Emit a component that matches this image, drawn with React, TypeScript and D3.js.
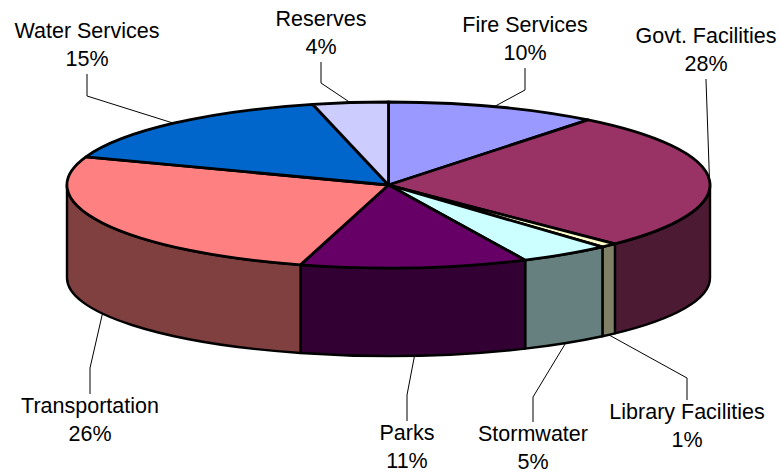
import React from 'react'
import * as d3 from 'd3'

const categories = ['Fire Services', 'Govt. Facilities', 'Library Facilities', 'Stormwater', 'Parks', 'Transportation', 'Water Services', 'Reserves']
const shares = [10.67, 26.9, 0.85, 4.6, 11.4, 26.1, 15.7, 3.8]
const percentLabels = ['10%', '28%', '1%', '5%', '11%', '26%', '15%', '4%']
const topColors = ['#9999ff', '#993366', '#ffffcc', '#ccffff', '#660066', '#ff8080', '#0066cc', '#ccccff']
const sideColors = ['#4d4d80', '#4d1a33', '#808066', '#668080', '#330033', '#804040', '#003366', '#666680']
const labelX = [525, 706, 687, 533, 407, 90, 87, 321]
const labelY = [32, 43, 419, 441, 440, 413, 38, 26]
const elbowY = [90, 80, 378, 397, 395, 368, 96, 83]

const width = 781
const height = 472
const cx = 388.5
const cy = 185
const rx = 321.5
const ry = 83
const bottomCy = 278
const bottomRy = 78

const App = () => {
  const slices = d3.pie<number>().sort(null).value((d) => d)(shares)
  const px = (a: number) => cx + rx * Math.sin(a)
  const py = (a: number) => cy - ry * Math.cos(a)
  const pyBottom = (a: number) => bottomCy - bottomRy * Math.cos(a)

  const topArc = d3.arc<d3.PieArcDatum<number>>().innerRadius(0).outerRadius(1)

  const wallPath = (a0: number, a1: number) => {
    const from = Math.max(a0, Math.PI / 2)
    const to = Math.min(a1, (3 * Math.PI) / 2)
    if (from >= to) return null
    return [
      `M${px(from)},${py(from)}`,
      `A${rx},${ry} 0 0 1 ${px(to)},${py(to)}`,
      `L${px(to)},${pyBottom(to)}`,
      `A${rx},${bottomRy} 0 0 0 ${px(from)},${pyBottom(from)}`,
      'Z',
    ].join(' ')
  }

  return (
    <svg width={width} height={height} style={{ position: 'absolute', left: 0, top: 0 }} fontFamily="'Liberation Sans', Arial, sans-serif" fontSize={21.5}>
      <rect width={width} height={height} fill="#fff" />
      {slices.map((s, i) => {
        const d = wallPath(s.startAngle, s.endAngle)
        return d ? <path key={i} d={d} fill={sideColors[i]} stroke="#000" strokeWidth={2.4} strokeLinejoin="round" /> : null
      })}
      <g transform={`translate(${cx},${cy}) scale(${rx},${ry})`}>
        {slices.map((s, i) => (
          <path key={i} d={topArc(s) as string} fill={topColors[i]} stroke="#000" strokeWidth={2.8} strokeLinejoin="round" vectorEffect="non-scaling-stroke" />
        ))}
      </g>
      {slices.map((s, i) => {
        const mid = (s.startAngle + s.endAngle) / 2
        const ax = px(mid)
        const ay = Math.cos(mid) < 0 ? pyBottom(mid) : py(mid)
        const down = labelY[i] > cy
        const textEnd = down ? labelY[i] - 19 : labelY[i] + 36
        const line = d3.line()([
          [labelX[i], textEnd],
          [labelX[i], elbowY[i]],
          [ax, ay],
        ])
        return <path key={i} d={line as string} fill="none" stroke="#000" strokeWidth={1} />
      })}
      {categories.map((c, i) => (
        <text key={c} x={labelX[i]} y={labelY[i]} textAnchor="middle" fill="#000">
          <tspan x={labelX[i]}>{c}</tspan>
          <tspan x={labelX[i]} dy={28}>{percentLabels[i]}</tspan>
        </text>
      ))}
    </svg>
  )
}

export default App
